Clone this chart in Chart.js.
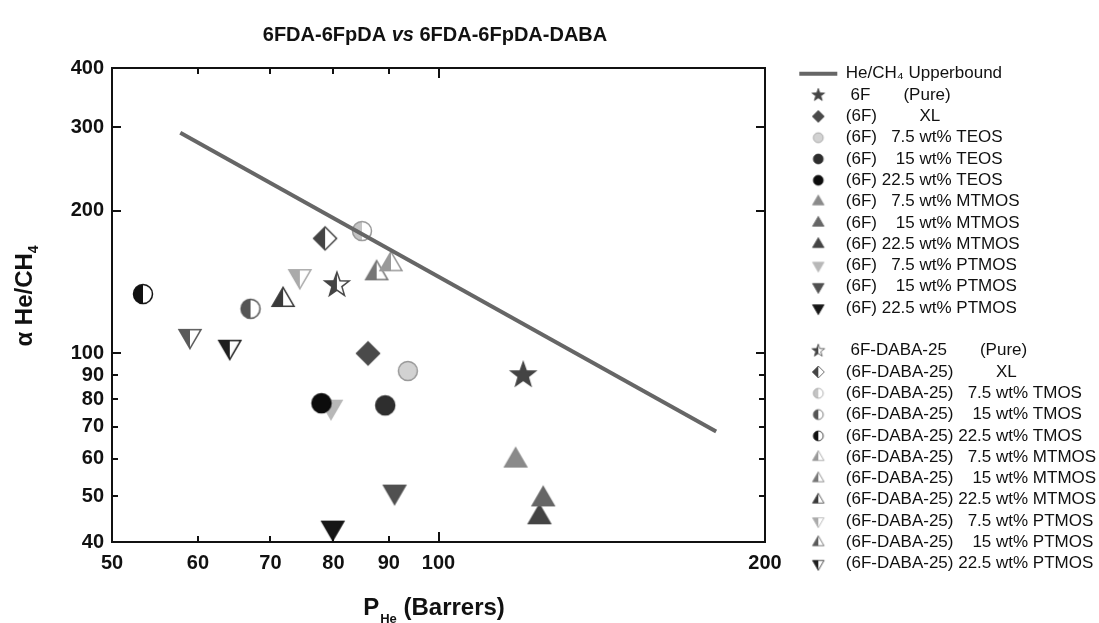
<!DOCTYPE html>
<html>
<head>
<meta charset="utf-8">
<script src="https://cdn.jsdelivr.net/npm/chart.js@4.4.0/dist/chart.umd.min.js"></script>
<style>
  html, body { margin: 0; padding: 0; background: #fff; }
</style>
</head>
<body>
<canvas id="myChart" width="1099" height="623"></canvas>
<script>
// He/CH4 upper bound (two end points of the line)
const boundP = [57.8, 180.3];
const boundAlpha = [292, 68.4];

// 6FDA-6FpDA series
const names6F = [' 6F       (Pure)', '(6F)         XL', '(6F)   7.5 wt% TEOS', '(6F)    15 wt% TEOS', '(6F) 22.5 wt% TEOS',
    '(6F)   7.5 wt% MTMOS', '(6F)    15 wt% MTMOS', '(6F) 22.5 wt% MTMOS',
    '(6F)   7.5 wt% PTMOS', '(6F)    15 wt% PTMOS', '(6F) 22.5 wt% PTMOS'];
const perm6F = [119.7, 86.1, 93.7, 89.3, 78.0, 117.8, 124.9, 123.9, 79.6, 91.1, 79.9];
const alpha6F = [90.0, 100.0, 91.8, 77.7, 78.5, 59.4, 49.2, 45.1, 77.2, 51.1, 42.9];

// 6FDA-6FpDA-DABA series
const namesDABA = [' 6F-DABA-25       (Pure)', '(6F-DABA-25)         XL', '(6F-DABA-25)   7.5 wt% TMOS', '(6F-DABA-25)    15 wt% TMOS', '(6F-DABA-25) 22.5 wt% TMOS',
    '(6F-DABA-25)   7.5 wt% MTMOS', '(6F-DABA-25)    15 wt% MTMOS', '(6F-DABA-25) 22.5 wt% MTMOS',
    '(6F-DABA-25)   7.5 wt% PTMOS', '(6F-DABA-25)    15 wt% PTMOS', '(6F-DABA-25) 22.5 wt% PTMOS'];
const permDABA = [80.6, 78.6, 85.0, 67.1, 53.4, 90.4, 87.7, 71.9, 74.5, 59.0, 64.2];
const alphaDABA = [139.4, 174.8, 181.2, 124.2, 133.4, 154.1, 147.5, 129.6, 145.6, 108.9, 103.3];

const xTicks = [50, 60, 70, 80, 90, 100, 200];
const yTicks = [40, 50, 60, 70, 80, 90, 100, 200, 300, 400];

// marker look for each series (same order as above)
const shapes = ['star', 'diamond', 'circle', 'circle', 'circle', 'up', 'up', 'up', 'down', 'down', 'down'];
const colors6F = ['#444', '#4a4a4a', '#d2d2d2', '#2e2e2e', '#0c0c0c', '#8a8a8a', '#666', '#444', '#b8b8b8', '#505050', '#161616'];
const colorsDABA = ['#444', '#444', '#c4c4c4', '#555', '#111', '#999', '#777', '#3a3a3a', '#aaa', '#5a5a5a', '#1e1e1e'];

const FONT = "'Liberation Sans', Arial, Helvetica, sans-serif";
Chart.defaults.font.family = FONT;
Chart.defaults.color = '#111';

function tracePath(g, shape) {
    g.beginPath();
    if (shape === 'circle') {
        g.arc(0, 0, 9.5, 0, Math.PI * 2);
    } else if (shape === 'diamond') {
        g.moveTo(0, -11.5); g.lineTo(11.5, 0); g.lineTo(0, 11.5); g.lineTo(-11.5, 0);
    } else if (shape === 'up') {
        g.moveTo(0, -12.7); g.lineTo(11, 6.3); g.lineTo(-11, 6.3);
    } else if (shape === 'down') {
        g.moveTo(0, 12.7); g.lineTo(11, -6.3); g.lineTo(-11, -6.3);
    } else if (shape === 'star') {
        for (let i = 0; i < 10; i++) {
            const r = i % 2 ? 5.2 : 12.8;
            const a = -Math.PI / 2 + i * Math.PI / 5;
            g.lineTo(Math.cos(a) * r, Math.sin(a) * r);
        }
    }
    g.closePath();
}

function marker(shape, color, half, scale) {
    const s = Math.ceil(30 * scale);
    const c = document.createElement('canvas');
    c.width = s; c.height = s;
    const g = c.getContext('2d');
    g.translate(s / 2, s / 2);
    g.scale(scale, scale);
    const stroke = color === '#d2d2d2' || color === '#c4c4c4' ? '#9a9a9a' : color;
    if (half) {
        tracePath(g, shape);
        g.fillStyle = '#fff'; g.fill();
        g.save();
        g.beginPath(); g.rect(-20, -20, 20, 40); g.clip();
        tracePath(g, shape);
        g.fillStyle = color; g.fill();
        g.restore();
    } else {
        tracePath(g, shape);
        g.fillStyle = color; g.fill();
    }
    tracePath(g, shape);
    g.lineWidth = 1.5;
    g.strokeStyle = stroke;
    g.stroke();
    return c;
}

const blank = document.createElement('canvas');
blank.width = 2; blank.height = 2;

const datasets = [{
    type: 'line',
    label: 'He/CH\u2084 Upperbound',
    data: boundP.map((p, i) => ({x: p, y: boundAlpha[i]})),
    borderColor: '#666',
    backgroundColor: '#666',
    borderWidth: 4,
    pointRadius: 0,
    pointStyle: 'line',
    order: 0
}];

names6F.forEach((name, i) => {
    datasets.push({
        label: name,
        data: [{x: perm6F[i], y: alpha6F[i]}],
        pointStyle: marker(shapes[i], colors6F[i], false, 1),
        legendIcon: marker(shapes[i], colors6F[i], false, 0.52),
        pointRadius: 10,
        pointHoverRadius: 10,
        order: 1
    });
});
namesDABA.forEach((name, i) => {
    // the original legend shows an upward triangle for the 15 wt% PTMOS entry
    const legendShape = i === 9 ? 'up' : shapes[i];
    datasets.push({
        label: name,
        data: [{x: permDABA[i], y: alphaDABA[i]}],
        pointStyle: marker(shapes[i], colorsDABA[i], true, 1),
        legendIcon: marker(legendShape, colorsDABA[i], true, 0.52),
        pointRadius: 10,
        pointHoverRadius: 10,
        order: 1
    });
});

// box, inward ticks, and titles with sub-scripts
const decorations = {
    id: 'decorations',
    afterDraw(chart) {
        const {ctx, chartArea: a, scales} = chart;
        const xs = scales.x, ys = scales.y;
        ctx.save();
        ctx.strokeStyle = '#111';
        ctx.lineWidth = 2;
        ctx.strokeRect(a.left, a.top, a.right - a.left, a.bottom - a.top);
        ctx.beginPath();
        xTicks.forEach(v => {
            const px = Math.round(xs.getPixelForValue(v));
            const len = v === 100 ? 10 : 6;
            ctx.moveTo(px, a.bottom); ctx.lineTo(px, a.bottom - len);
            ctx.moveTo(px, a.top); ctx.lineTo(px, a.top + len);
        });
        yTicks.forEach(v => {
            const py = Math.round(ys.getPixelForValue(v));
            const len = v >= 100 ? 9 : 6;
            ctx.moveTo(a.left, py); ctx.lineTo(a.left + len, py);
            ctx.moveTo(a.right, py); ctx.lineTo(a.right - len, py);
        });
        ctx.stroke();

        ctx.fillStyle = '#111';
        ctx.textBaseline = 'alphabetic';
        ctx.textAlign = 'left';

        // chart title
        const t1 = '6FDA-6FpDA ', t2 = 'vs', t3 = ' 6FDA-6FpDA-DABA';
        ctx.font = 'bold 20px ' + FONT;
        const w1 = ctx.measureText(t1).width, w3 = ctx.measureText(t3).width;
        ctx.font = 'italic bold 20px ' + FONT;
        const w2 = ctx.measureText(t2).width;
        let tx = 435 - (w1 + w2 + w3) / 2;
        const ty = 41;
        ctx.font = 'bold 20px ' + FONT;
        ctx.fillText(t1, tx, ty);
        ctx.font = 'italic bold 20px ' + FONT;
        ctx.fillText(t2, tx + w1, ty);
        ctx.font = 'bold 20px ' + FONT;
        ctx.fillText(t3, tx + w1 + w2, ty);

        // x title: P_He (Barrers)
        ctx.font = 'bold 24px ' + FONT;
        const wp = ctx.measureText('P').width;
        const wb = ctx.measureText(' (Barrers)').width;
        ctx.font = 'bold 13px ' + FONT;
        const wh = ctx.measureText('He').width;
        let xx = 434 - (wp + wh + wb + 1) / 2;
        ctx.font = 'bold 24px ' + FONT;
        ctx.fillText('P', xx, 615);
        ctx.font = 'bold 13px ' + FONT;
        ctx.fillText('He', xx + wp + 1, 623);
        ctx.font = 'bold 24px ' + FONT;
        ctx.fillText(' (Barrers)', xx + wp + wh + 1, 615);

        // y title: alpha He/CH4
        ctx.translate(32, 296);
        ctx.rotate(-Math.PI / 2);
        ctx.font = 'bold 24px ' + FONT;
        const wa = ctx.measureText('\u03b1 He/CH').width;
        ctx.font = 'bold 14px ' + FONT;
        const w4 = ctx.measureText('4').width;
        const yx = -(wa + w4) / 2;
        ctx.font = 'bold 24px ' + FONT;
        ctx.fillText('\u03b1 He/CH', yx, 0);
        ctx.font = 'bold 14px ' + FONT;
        ctx.fillText('4', yx + wa, 6);
        ctx.restore();
    }
};

const tickFont = {size: 20, weight: 'bold'};

new Chart('myChart', {
    type: 'scatter',
    data: {datasets},
    options: {
        responsive: false,
        animation: false,
        devicePixelRatio: 1,
        layout: {padding: {left: 40, top: 61, right: 0, bottom: 10}},
        plugins: {
            tooltip: {enabled: false},
            title: {display: false},
            legend: {
                position: 'right',
                align: 'start',
                maxWidth: 304,
                labels: {
                    usePointStyle: true,
                    pointStyleWidth: 38,
                    boxHeight: 8,
                    padding: 4.3,
                    color: '#111',
                    font: {size: 17},
                    generateLabels(chart) {
                        const items = Chart.defaults.plugins.legend.labels.generateLabels(chart);
                        items.forEach(it => {
                            const ds = chart.data.datasets[it.datasetIndex];
                            if (ds.legendIcon) it.pointStyle = ds.legendIcon;
                        });
                        items.splice(1 + names6F.length, 0, {
                            text: '', fillStyle: 'rgba(0,0,0,0)', strokeStyle: 'rgba(0,0,0,0)',
                            lineWidth: 0, pointStyle: blank, hidden: false, datasetIndex: -1
                        });
                        return items;
                    }
                },
                onClick: () => {}
            }
        },
        scales: {
            x: {
                type: 'logarithmic',
                min: 50,
                max: 200,
                afterBuildTicks: s => { s.ticks = xTicks.map(v => ({value: v})); },
                afterFit: s => { s.height = 71; },
                grid: {display: false, drawTicks: false},
                border: {display: false},
                ticks: {
                    font: tickFont,
                    color: '#111',
                    padding: 9,
                    maxRotation: 0,
                    autoSkip: false,
                    callback: v => String(v)
                }
            },
            y: {
                type: 'logarithmic',
                min: 40,
                max: 400,
                afterBuildTicks: s => { s.ticks = yTicks.map(v => ({value: v})); },
                afterFit: s => { s.width = 72; },
                grid: {display: false, drawTicks: false},
                border: {display: false},
                ticks: {
                    font: tickFont,
                    color: '#111',
                    padding: 8,
                    autoSkip: false,
                    callback: v => String(v)
                }
            },
            x2: {
                type: 'logarithmic',
                position: 'top',
                min: 50,
                max: 200,
                afterFit: s => { s.height = 7; },
                grid: {display: false, drawTicks: false},
                border: {display: false},
                ticks: {display: false}
            },
            y2: {
                type: 'logarithmic',
                position: 'right',
                min: 40,
                max: 400,
                afterFit: s => { s.width = 30; },
                grid: {display: false, drawTicks: false},
                border: {display: false},
                ticks: {display: false}
            }
        }
    },
    plugins: [decorations]
});
</script>
</body>
</html>
